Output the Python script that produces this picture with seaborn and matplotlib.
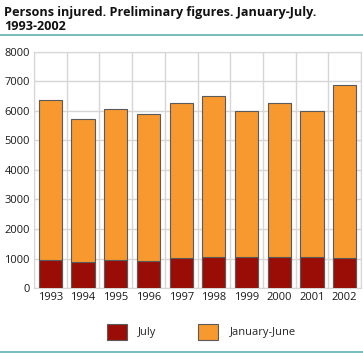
import numpy as np
import pandas as pd
import matplotlib
matplotlib.use('Agg')
import matplotlib.pyplot as plt
from matplotlib.patches import Patch
from matplotlib.lines import Line2D
import seaborn as sns

YEARS = ['1993', '1994', '1995', '1996', '1997', '1998', '1999', '2000', '2001', '2002']
TOTAL = [6380, 5720, 6080, 5890, 6260, 6500, 5990, 6270, 6010, 6890]
JULY = [960, 880, 950, 930, 1030, 1050, 1040, 1050, 1050, 1010]
JAN_JUNE = [t - j for t, j in zip(TOTAL, JULY)]

COLORS = {'July': '#9a0d06', 'January-June': '#f7992f'}
GRID = '#d6d6d6'
TEAL = '#5fb0b0'

sns.set_style('white')
plt.rcParams['font.family'] = ['Open Sans', 'DejaVu Sans']

df = pd.DataFrame({'year': YEARS, 'july': JULY, 'jan_june': JAN_JUNE})
df['total'] = df['july'] + df['jan_june']

fig = plt.figure(figsize=(3.63, 3.56), dpi=100)
ax = fig.add_axes([0.0937, 0.191, 0.9008, 0.663])

# stacked: total first (orange), then July over the bottom part
sns.barplot(data=df, x='year', y='total', color=COLORS['January-June'], width=0.71,
            edgecolor='#5a5a5a', linewidth=0.8, saturation=1, ax=ax, zorder=3)
sns.barplot(data=df, x='year', y='july', color=COLORS['July'], width=0.71,
            edgecolor='#5a5a5a', linewidth=0.8, saturation=1, ax=ax, zorder=4)

ax.set_xlim(-0.5, len(YEARS) - 0.5)
ax.set_ylim(0, 8000)
ax.set_yticks(range(0, 8001, 1000))
ax.set_xticks(np.arange(-0.5, len(YEARS), 1), minor=True)
ax.grid(True, axis='y', color=GRID, linewidth=1, zorder=0)
ax.grid(True, axis='x', which='minor', color=GRID, linewidth=1, zorder=0)
ax.grid(False, axis='x', which='major')
ax.set_axisbelow(True)
ax.tick_params(axis='both', which='both', length=0, labelsize=8, colors='#1a1a1a', pad=3)
ax.set_xlabel('')
ax.set_ylabel('')
for s in ax.spines.values():
    s.set_color(GRID)

fig.text(0.011, 0.983, 'Persons injured. Preliminary figures. January-July.\n1993-2002',
         fontsize=9.1, fontweight='bold', va='top', ha='left', linespacing=1.05, color='#111111')
fig.add_artist(Line2D([0, 1], [0.902, 0.902], color=TEAL, linewidth=1.2))
fig.add_artist(Line2D([0, 1], [0.011, 0.011], color=TEAL, linewidth=1.2))

handles = [Patch(facecolor=COLORS['July'], edgecolor='#5a5a5a', linewidth=0.8),
           Patch(facecolor=COLORS['January-June'], edgecolor='#5a5a5a', linewidth=0.8)]
fig.legend(handles, ['July', 'January-June'], loc='center', bbox_to_anchor=(0.554, 0.068),
           ncol=2, frameon=False, fontsize=8, handlelength=1.8, handleheight=1.9,
           handletextpad=1.0, columnspacing=3.8)

fig.savefig('out.png', dpi=100)
